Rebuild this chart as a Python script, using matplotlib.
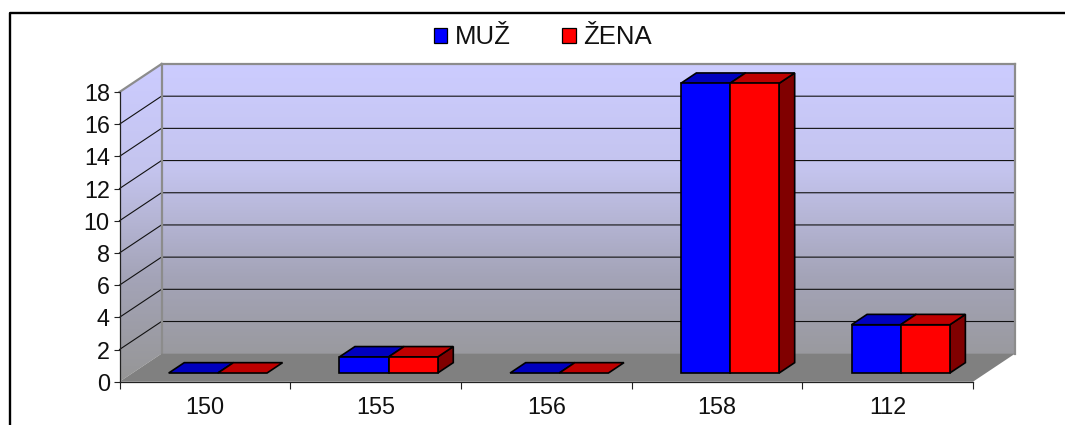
import numpy as np
import matplotlib
matplotlib.use('Agg')
import matplotlib.pyplot as plt
from matplotlib.colors import LinearSegmentedColormap
from matplotlib.lines import Line2D
from matplotlib.patches import Patch, Polygon

categories = ['150', '155', '156', '158', '112']
muz = [0, 1, 0, 18, 3]
zena = [0, 1, 0, 18, 3]
y_ticks = list(range(0, 19, 2))

plt.rcParams['font.family'] = ['Liberation Sans', 'DejaVu Sans']

W, H = 1065, 425
fig = plt.figure(figsize=(W / 100, H / 100), dpi=100)
left, right, top, bottom = 119.5, 973.0, 92.0, 381.7
ax = fig.add_axes([left / W, 1 - bottom / H, (right - left) / W, (bottom - top) / H])
ax.set_xlim(0, len(categories))
ax.set_ylim(0, 18)

# oblique depth, in data units of the front plane
depth_x = 42 / ((right - left) / len(categories))
depth_y = 28 / ((bottom - top) / 18)


def pt(x, y, d=0.0):
    return (x + depth_x * d, y + depth_y * d)


def face(pts, color, edge='none', lw=0.0, z=2):
    p = Polygon(pts, closed=True, facecolor=color, edgecolor=edge, linewidth=lw,
                joinstyle='miter', clip_on=False, zorder=z)
    ax.add_patch(p)
    return p


n = len(categories)
wall_cmap = LinearSegmentedColormap.from_list('wall', ['#ccccff', '#c4c4ee', '#a4a4b8', '#969696'])
grad = np.linspace(0, 1, 256).reshape(-1, 1)
extent = (0, n + depth_x, 0, 18 + depth_y)

back_pts = [pt(0, 0, 1), pt(n, 0, 1), pt(n, 18, 1), pt(0, 18, 1)]
side_pts = [pt(0, 0, 0), pt(0, 0, 1), pt(0, 18, 1), pt(0, 18, 0)]
for pts in (back_pts, side_pts):
    im = ax.imshow(grad, cmap=wall_cmap, extent=extent, origin='upper', aspect='auto', zorder=0)
    clip = Polygon(pts, closed=True, transform=ax.transData)
    im.set_clip_path(clip)
    im.set_clip_box(fig.bbox)

ax.set_xlim(0, n)
ax.set_ylim(0, 18)

# gridlines run along the side wall and the back wall
for v in y_ticks[1:-1]:
    xs, ys = zip(pt(0, v, 0), pt(0, v, 1), pt(n, v, 1))
    ax.plot(xs, ys, color='#111111', lw=0.8, clip_on=False, zorder=1)

# wall outline and floor
for a, b in [(pt(0, 18, 0), pt(0, 18, 1)), (pt(0, 18, 1), pt(n, 18, 1)),
             (pt(n, 18, 1), pt(n, 0, 1)), (pt(0, 18, 1), pt(0, 0, 1))]:
    ax.plot([a[0], b[0]], [a[1], b[1]], color='#8c8c8c', lw=1.6, clip_on=False, zorder=1)
face([pt(0, 0, 0), pt(n, 0, 0), pt(n, 0, 1), pt(0, 0, 1)], '#808080', z=1.5)

# bars
group_gap = 0.212
bar_w = 0.288
d0, d1 = 0.31, 0.68
colors = [('#0000ff', '#0000bf', '#000080'), ('#ff0000', '#bf0000', '#800000')]
for i in range(n):
    for j, vals in enumerate([muz, zena]):
        x0 = i + group_gap + j * bar_w
        x1 = x0 + bar_w
        v = vals[i]
        front, top_c, side = colors[j]
        kw = dict(edge='black', lw=1.2, z=3 + j * 0.1)
        if v > 0:
            face([pt(x1, 0, d0), pt(x1, 0, d1), pt(x1, v, d1), pt(x1, v, d0)], side, **kw)
        face([pt(x0, v, d0), pt(x1, v, d0), pt(x1, v, d1), pt(x0, v, d1)], top_c, **kw)
        if v > 0:
            face([pt(x0, 0, d0), pt(x1, 0, d0), pt(x1, v, d0), pt(x0, v, d0)], front, **kw)

# axes and ticks
for s in ['top', 'right']:
    ax.spines[s].set_visible(False)
ax.spines['left'].set_color('#222222')
ax.spines['bottom'].set_color('#222222')
ax.spines['left'].set_linewidth(0.9)
ax.spines['bottom'].set_linewidth(0.9)
ax.spines['left'].set_zorder(5)
ax.set_yticks(y_ticks)
ax.set_xticks(range(n + 1))
ax.set_xticks(np.arange(n) + 0.5, categories, minor=True)
ax.set_xticklabels([])
ax.tick_params(axis='x', which='major', length=5, width=0.8, color='#222222')
ax.tick_params(axis='x', which='minor', length=0, pad=10, labelsize=16.8, labelcolor='#111111')
ax.tick_params(axis='y', length=4, width=0.8, color='#222222', pad=3, labelsize=16.8, labelcolor='#111111')

handles = [Patch(facecolor='#0000ff', edgecolor='black', linewidth=0.9, label='MUŽ'),
           Patch(facecolor='#ff0000', edgecolor='black', linewidth=0.9, label='ŽENA')]
fig.legend(handles=handles, loc='center', bbox_to_anchor=(543 / W, 1 - 37.5 / H), ncol=2, frameon=False,
           fontsize=18.5, handlelength=0.52, handleheight=0.52, handletextpad=0.3, columnspacing=2.0,
           labelcolor='#111111')

# outer frame, top and left only
fig.add_artist(Line2D([9.5 / W, 9.5 / W, 1], [0, 1 - 13 / H, 1 - 13 / H],
                      transform=fig.transFigure, color='black', lw=1.7))

fig.savefig('out.png', dpi=100)
